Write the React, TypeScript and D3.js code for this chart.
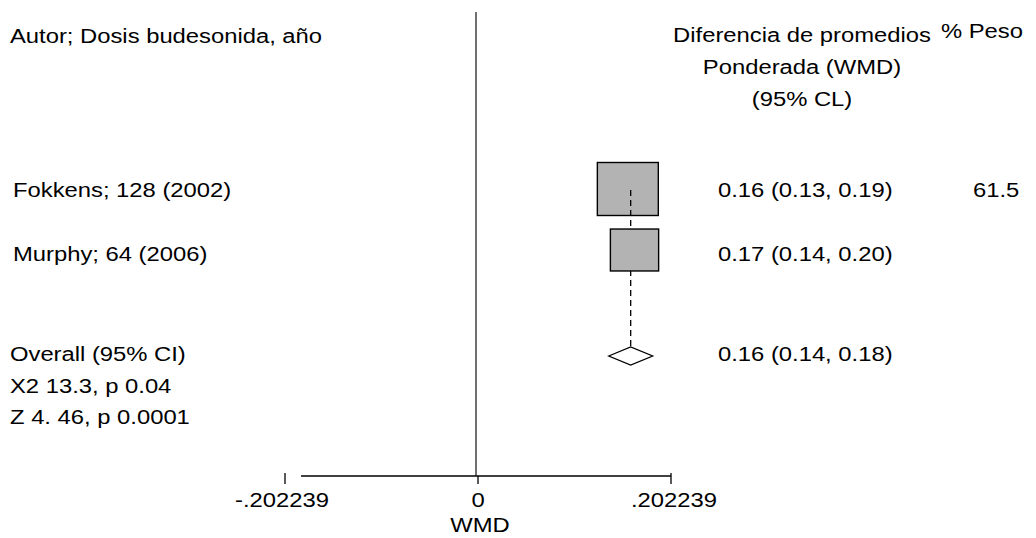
import React from 'react';
import * as d3 from 'd3';

// study rows
const studies = ['Fokkens; 128 (2002)', 'Murphy; 64 (2006)'];
const estimates = [0.157, 0.164];
const weights = [61.5, 38.5];
const estimateLabels = ['0.16 (0.13, 0.19)', '0.17 (0.14, 0.20)'];
const weightLabels = ['61.5', ''];

// pooled result
const overall = { est: 0.16, lo: 0.137, hi: 0.183 };
const overallLabel = '0.16 (0.14, 0.18)';
const overallText = ['Overall (95% CI)', 'X2 13.3, p 0.04', 'Z 4. 46, p 0.0001'];

// axis
const tickValues = [-0.202239, 0, 0.202239];
const tickLabels = ['-.202239', '0', '.202239'];
const axisLineFrom = -0.1855;

const headerLeft = 'Autor; Dosis budesonida, año';
const headerMid = ['Diferencia de promedios', 'Ponderada (WMD)', '(95% CL)'];
const headerRight = '% Peso';

const W = 1036;
const H = 538;
const FONT = '"Liberation Sans", Arial, Helvetica, sans-serif';
const FS = 20;
const SX = 1.19; // text is stretched horizontally in the original

const x = d3.scaleLinear().domain([0, 0.202239]).range([478, 671]);
// row index -> vertical centre
const y = d3.scaleLinear().domain([0, 1]).range([190, 253]);
const overallRow = 2.635;

const T = ({ x, y, anchor = 'start', children }: any) => (
  <text
    transform={`translate(${x},${y}) scale(${SX},1)`}
    textAnchor={anchor}
    fontFamily={FONT}
    fontSize={FS}
    fill="#000"
  >
    {children}
  </text>
);

export default function App() {
  const boxK = 6.76;
  const yo = y(overallRow);

  return (
    <svg width={W} height={H} style={{ position: 'absolute', left: 0, top: 0, background: '#fff' }}>
      <rect width={W} height={H} fill="#fff" />

      {/* headers */}
      <T x={10} y={43}>{headerLeft}</T>
      {headerMid.map((t, i) => (
        <T key={t} x={802} y={42 + i * 32} anchor="middle">{t}</T>
      ))}
      <T x={941} y={38}>{headerRight}</T>

      {/* zero line */}
      <line x1={x(0) - 2} x2={x(0) - 2} y1={12} y2={476} stroke="#404040" strokeWidth={1.5} />

      {/* first box, then the overall dashed line, then the rest */}
      {studies.map((s, i) => {
        const side = boxK * Math.sqrt(weights[i]);
        const w = side * 1.15;
        const box = (
          <rect
            key={s}
            x={x(estimates[i]) - w / 2}
            y={y(i) - 1 - 2 * i - side / 2}
            width={w}
            height={side}
            fill="#b3b3b3"
            stroke="#000"
            strokeWidth={1.4}
          />
        );
        if (i === 0) {
          return (
            <g key={s}>
              {box}
              <line
                x1={x(overall.est)}
                x2={x(overall.est)}
                y1={y(0)}
                y2={yo - 9}
                stroke="#000"
                strokeWidth={1.3}
                strokeDasharray="6,4"
              />
            </g>
          );
        }
        return box;
      })}

      {/* pooled diamond */}
      <path
        d={`M${x(overall.lo)},${yo} L${x(overall.est)},${yo - 9} L${x(overall.hi)},${yo} L${x(overall.est)},${yo + 9} Z`}
        fill="#fff"
        stroke="#000"
        strokeWidth={1.3}
      />

      {/* study labels */}
      {studies.map((s, i) => (
        <g key={s}>
          <T x={13} y={y(i) + 7 + i}>{s}</T>
          <T x={718} y={y(i) + 7 + i}>{estimateLabels[i]}</T>
          {weightLabels[i] && <T x={973} y={y(i) + 7}>{weightLabels[i]}</T>}
        </g>
      ))}

      {/* overall labels */}
      {overallText.map((t, i) => (
        <T key={t} x={10} y={yo + 5 + i * 31.5}>{t}</T>
      ))}
      <T x={718} y={yo + 5}>{overallLabel}</T>

      {/* x axis */}
      <line x1={x(axisLineFrom)} x2={x(tickValues[2])} y1={476} y2={476} stroke="#000" strokeWidth={1.3} />
      {tickValues.map((v, i) => (
        <g key={i}>
          <line x1={x(v)} x2={x(v)} y1={v === 0 ? 476 : 473} y2={484} stroke="#000" strokeWidth={1.3} />
          <T x={x(v) - (i === 0 ? 3 : i === 2 ? -3 : 0)} y={507} anchor="middle">{tickLabels[i]}</T>
        </g>
      ))}
      <T x={480} y={532} anchor="middle">WMD</T>
    </svg>
  );
}
